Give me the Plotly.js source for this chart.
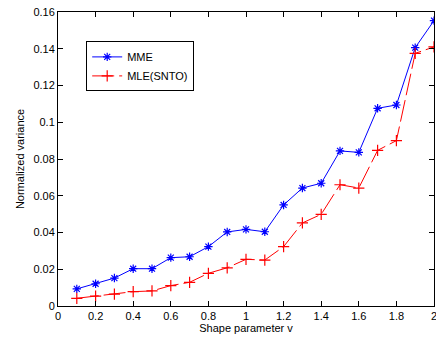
<!DOCTYPE html>
<html><head><meta charset="utf-8">
<script src="https://cdn.plot.ly/plotly-3.0.1.min.js"></script>
<style>html,body{margin:0;padding:0;background:#fff}#c{width:436px;height:338px}</style>
</head><body><div id="c"></div>
<script>
const shape = [0.1,0.2,0.3,0.4,0.5,0.6,0.7,0.8,0.9,1.0,1.1,1.2,1.3,1.4,1.5,1.6,1.7,1.8,1.9,2.0];
const mme = [0.0093,0.0121,0.0152,0.0203,0.0203,0.0263,0.0268,0.0323,0.0403,0.0417,0.0404,0.0550,0.0642,0.0668,0.0844,0.0836,0.1076,0.1094,0.1406,0.1553];
const mle = [0.0042,0.0054,0.0065,0.0078,0.0082,0.0111,0.0129,0.0178,0.0208,0.0254,0.0250,0.0323,0.0452,0.0499,0.0660,0.0642,0.0847,0.0900,0.1375,0.1410];
const xTicks = [0,0.2,0.4,0.6,0.8,1,1.2,1.4,1.6,1.8,2];
const xTickText = ['0','0.2','0.4','0.6','0.8','1','1.2','1.4','1.6','1.8','2'];
const yTicks = [0,0.02,0.04,0.06,0.08,0.1,0.12,0.14,0.16];
const yTickText = ['0','0.02','0.04','0.06','0.08','0.1','0.12','0.14','0.16'];

const font = {family:'"Liberation Sans", Arial, sans-serif', size:11, color:'#000'};
const traces = [
  {x:shape, y:mme, name:'MME', type:'scatter', mode:'lines+markers',
   line:{color:'#0000ff', width:1},
   marker:{symbol:'asterisk-open', size:7, color:'#0000ff', line:{color:'#0000ff', width:1.2}}},
  {x:shape, y:mle, name:'MLE(SNTO)', type:'scatter', mode:'lines+markers',
   line:{color:'#ff0000', width:1, dash:'22px,5px'},
   marker:{symbol:'cross-thin-open', size:8, color:'#ff0000', line:{color:'#ff0000', width:1.2}}}
];
const axisCommon = {showline:true, linecolor:'#000', linewidth:1, mirror:'allticks',
  ticks:'inside', ticklen:5, tickcolor:'#000', showgrid:false, zeroline:false, tickfont:font,
  ticklabeloverflow:'allow'};
const layout = {
  width:436, height:338, paper_bgcolor:'#fff', plot_bgcolor:'#fff',
  margin:{l:58, r:2, t:12, b:32},
  font:font, showlegend:true,
  xaxis:Object.assign({}, axisCommon, {range:[0,2], tickvals:xTicks, ticktext:xTickText,
    title:{text:'Shape parameter v', font:font, standoff:2}}),
  yaxis:Object.assign({}, axisCommon, {range:[0,0.16], tickvals:yTicks, ticktext:yTickText,
    title:{text:'Normalized variance', font:font, standoff:6}}),
  legend:{x:0.075, y:0.9, xanchor:'left', yanchor:'top', bgcolor:'#fff',
    bordercolor:'#000', borderwidth:1, font:font, tracegroupgap:0, itemwidth:30}
};
Plotly.newPlot('c', traces, layout, {displayModeBar:false, staticPlot:true});
</script></body></html>
